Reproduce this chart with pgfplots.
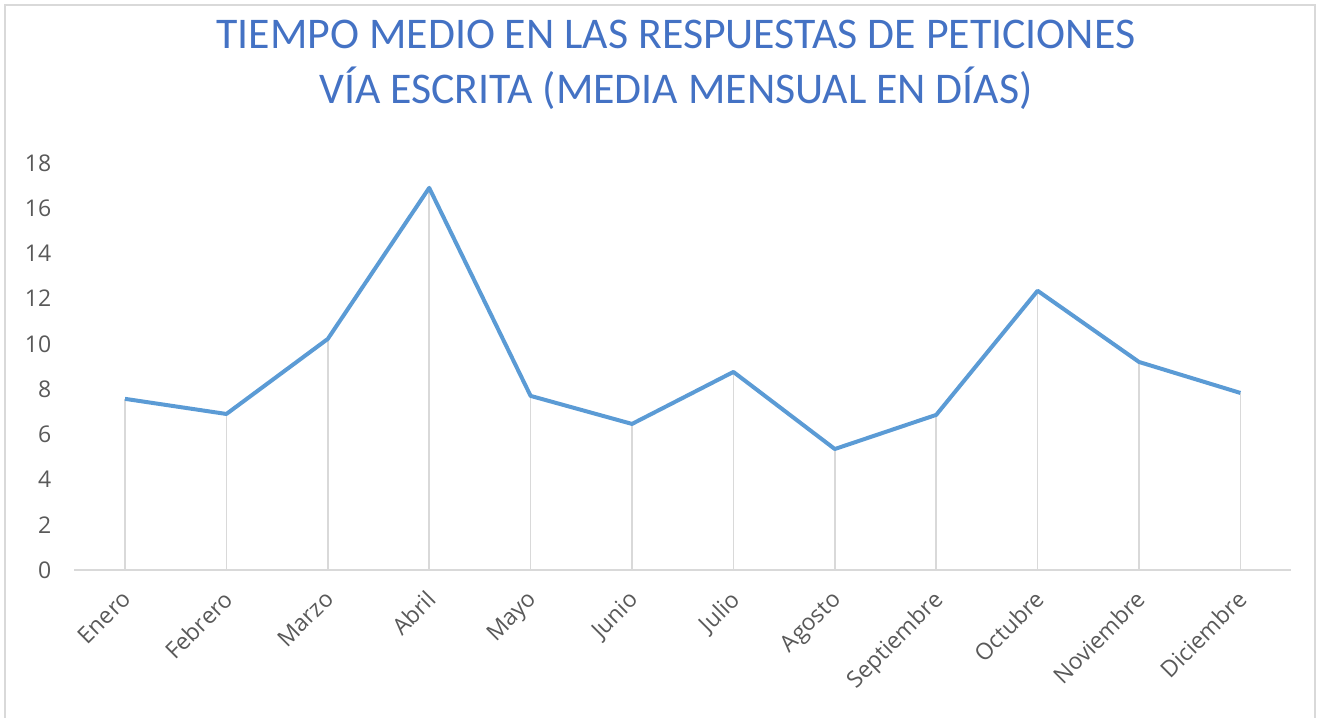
\documentclass[border=0pt]{standalone}
\usepackage{fontspec}
\setmainfont{Open Sans}
\newfontfamily\titlefont{Carlito}
\usepackage{pgfplots}
\usepackage{pgfplotstable}
\pgfplotsset{compat=1.18}
\definecolor{linecol}{HTML}{5B9BD5}
\definecolor{gridcol}{HTML}{D9D9D9}
\definecolor{titlecol}{HTML}{4472C4}
\definecolor{labcol}{HTML}{595959}
\pgfplotstableread{
x y
0 7.57
1 6.90
2 10.22
3 16.90
4 7.70
5 6.46
6 8.76
7 5.35
8 6.86
9 12.35
10 9.20
11 7.83
}\datatable
\begin{document}
\begin{tikzpicture}
\useasboundingbox (0pt,0pt) rectangle (660pt,358.5pt);
\draw[gridcol, line width=0.7pt] (2.5pt,-5pt) -- (2.5pt,356pt) -- (657.5pt,356pt) -- (657.5pt,-5pt);
\node[text=titlecol, font=\titlefont\fontsize{21.9}{27.5}\selectfont, align=center] at (338pt,326pt) {TIEMPO MEDIO EN LAS RESPUESTAS DE PETICIONES\\V\'IA ESCRITA (MEDIA MENSUAL EN D\'IAS)};
\begin{axis}[
  at={(37.15pt,73.5pt)}, anchor=south west,
  scale only axis, width=608.4pt, height=203.5pt,
  xmin=-0.5, xmax=11.5, ymin=0, ymax=18,
  ytick={0,2,...,18},
  xtick={0,...,11},
  xticklabels={Enero,Febrero,Marzo,Abril,Mayo,Junio,Julio,Agosto,Septiembre,Octubre,Noviembre,Diciembre},
  major tick length=0pt,
  axis x line*=bottom, axis y line*=left,
  x axis line style={draw=gridcol, line width=0.7pt, -},
  y axis line style={draw=none},
  /pgf/number format/assume math mode=true,
  tick label style={font=\fontsize{11.5}{13}\selectfont, text=labcol},
  yticklabel style={anchor=east, xshift=-8pt},
  xticklabel style={anchor=north east, xshift=-2.2pt, yshift=-4.6pt, rotate=45},
  clip=false,
]
\addplot[ycomb, draw=gridcol, line width=0.8pt, no marks] table[x=x,y=y] {\datatable};
\addplot[linecol, line width=2pt, no marks, line join=round] table[x=x,y=y] {\datatable};
\end{axis}
\end{tikzpicture}
\end{document}
